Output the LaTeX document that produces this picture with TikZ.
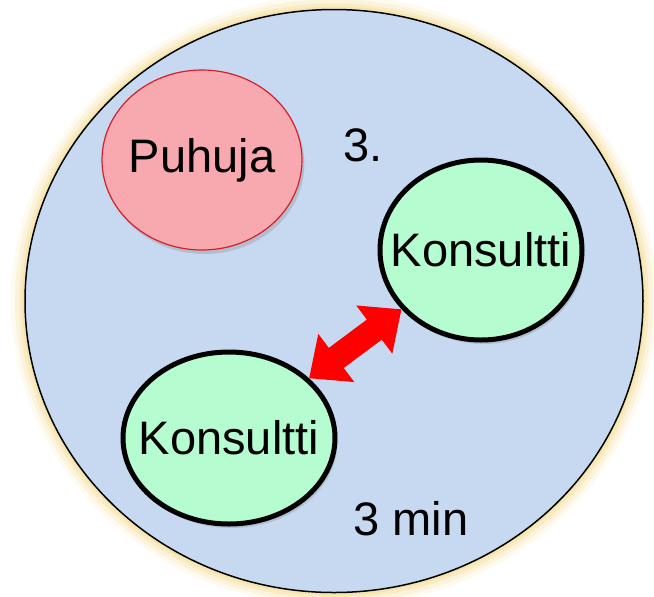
\documentclass[tikz,border=0pt]{standalone}
\usepackage{fontspec}
\setmainfont{Liberation Sans}
\usetikzlibrary{shapes.geometric,shadows,arrows.meta}
\definecolor{roomblue}{HTML}{C6D9F0}
\definecolor{puhujapink}{HTML}{F8A9B0}
\definecolor{puhujared}{HTML}{D81E2C}
\definecolor{mintgreen}{HTML}{B5FCD0}
\definecolor{glowyellow}{HTML}{F5DE9A}
\newcommand{\nimi}[1]{\makebox[0pt]{#1}}
\tikzset{
every node/.style=
    {ellipse,
    inner sep=0pt,
    font=\fontsize{23.5}{28}\selectfont
    },
room/.style=
    {fill=roomblue,
    draw=black,
    line width=0.75pt,
    minimum width=309pt,
    minimum height=291.5pt
    },
puhuja/.style=
    {fill=puhujapink,
    draw=puhujared,
    line width=0.6pt,
    minimum width=100pt,
    minimum height=90pt,
    drop shadow={opacity=0.3,shadow xshift=1.2pt,shadow yshift=-2pt}
    },
konsultti/.style=
    {fill=mintgreen,
    draw=black,
    line width=2.5pt,
    drop shadow={opacity=0.3,shadow xshift=1.2pt,shadow yshift=-2pt}
    },
label/.style=
    {rectangle,
    inner sep=0pt
    },
puhe/.style=
    {red,
    line width=12.5pt,
    {Triangle[width=29pt,length=17pt]}-{Triangle[width=29pt,length=17pt]}
    }}

\begin{document}
\begin{tikzpicture}[x=0.5pt,y=-0.5pt]
\useasboundingbox (0,0) rectangle (654,596);
% glow round the room
\foreach \g/\o in {14/0.15,10/0.25,6/0.35,3/0.5}
    \fill[glowyellow,opacity=\o] (334,301) ellipse ({309+\g} and {291.5+\g});
\node[room] (huone) at (334,301) {};
\node[puhuja] (puhuja) at (202,160) {\nimi{Puhuja}};
\node[konsultti,minimum width=101pt,minimum height=90pt] (k1) at (481,250) {\nimi{Konsultti}};
\node[konsultti,minimum width=106pt,minimum height=86pt] (k2) at (229,438) {\nimi{Konsultti}};
\node[label] (vaihe) at (363,145) {3.};
\node[label] (aika) at (411,519) {3 min};
\draw[puhe] (k2) -- (k1);
\end{tikzpicture}
\end{document}
